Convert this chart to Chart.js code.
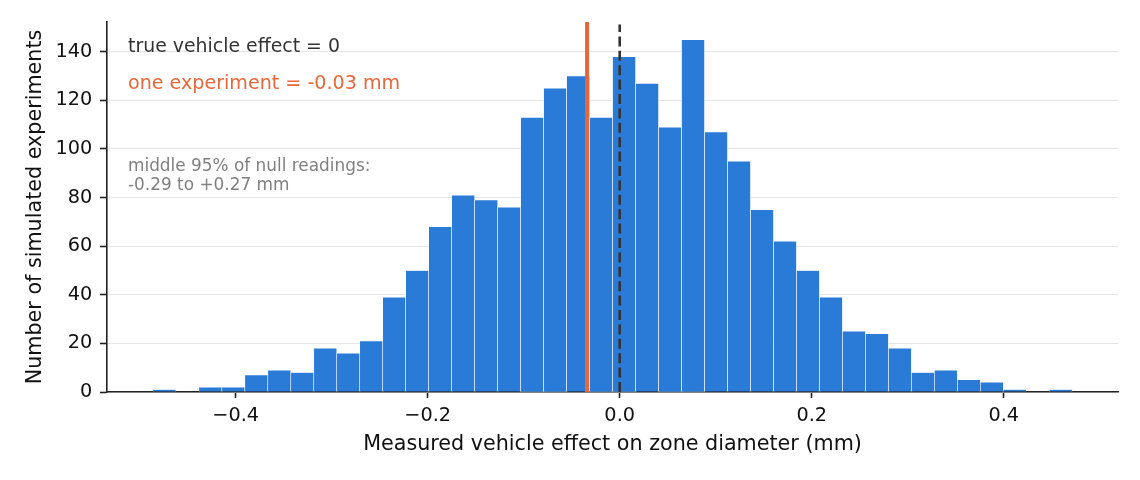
<!DOCTYPE html>
<html>
<head>
<meta charset="utf-8">
<script src="https://cdn.jsdelivr.net/npm/chart.js@4"></script>
<style>
  html, body { margin: 0; padding: 0; background: #fff; }
  #wrap { width: 1140px; height: 480px; }
</style>
</head>
<body>
<div id="wrap"><canvas id="myChart" width="1140" height="480"></canvas></div>
<script>
// histogram of 2000 simulated experiments, 40 equal bins
var binLeft = -0.4862;
var binWidth = 0.02394;
var counts = [1, 0, 2, 2, 7, 9, 8, 18, 16, 21,
              39, 50, 68, 81, 79, 76, 113, 125, 130, 113,
              138, 127, 109, 145, 107, 95, 75, 62, 50, 39,
              25, 24, 18, 8, 9, 5, 4, 1, 0, 1];
var xTicks = [-0.4, -0.2, 0, 0.2, 0.4];
var yTicks = [0, 20, 40, 60, 80, 100, 120, 140];
var trueEffect = 0;
var oneExperiment = -0.034;
var xMin = -0.534, xMax = 0.519;
var yMax = 152.25;

var blue = '#2a7ad7';
var orange = '#e8673a';
var font = 'DejaVu Sans';

var bars = counts.map(function (c, i) {
    return { x: binLeft + (i + 0.5) * binWidth, y: c };
});

// text notes in the upper-left corner of the plot
var notesPlugin = {
    id: 'notes',
    afterDraw: function (chart) {
        var ctx = chart.ctx;
        var a = chart.chartArea;
        var x = a.left + 21;
        ctx.save();
        ctx.textAlign = 'left';
        ctx.textBaseline = 'alphabetic';
        ctx.font = '18.9px "' + font + '"';
        ctx.fillStyle = '#333333';
        ctx.fillText('true vehicle effect = 0', x, a.top + 30);
        ctx.font = '19.1px "' + font + '"';
        ctx.fillStyle = orange;
        ctx.fillText('one experiment = -0.03 mm', x, a.top + 67);
        ctx.font = '16.9px "' + font + '"';
        ctx.fillStyle = '#808080';
        ctx.fillText('middle 95% of null readings:', x, a.top + 149);
        ctx.fillText('-0.29 to +0.27 mm', x, a.top + 168);
        ctx.restore();
    }
};

var ctx = document.getElementById('myChart').getContext('2d');
var myChart = new Chart(ctx, {
    type: 'bar',
    data: {
        datasets: [{
            type: 'line',
            data: [{ x: oneExperiment, y: 0 }, { x: oneExperiment, y: yMax }],
            borderColor: orange,
            borderWidth: 4,
            pointRadius: 0,
            order: 1
        }, {
            type: 'line',
            data: [{ x: trueEffect, y: 0 }, { x: trueEffect, y: yMax - 1 }],
            borderColor: '#333333',
            borderWidth: 2.6,
            borderDash: [10, 4.4],
            pointRadius: 0,
            order: 0
        }, {
            type: 'bar',
            data: bars,
            backgroundColor: blue,
            borderColor: '#ffffff',
            borderWidth: { left: 0.6, right: 0.6, top: 0.6, bottom: 0 },
            barPercentage: 1,
            categoryPercentage: 1,
            order: 2
        }]
    },
    options: {
        responsive: false,
        animation: false,
        layout: { padding: { left: 0, top: 22, right: 22, bottom: 0 } },
        plugins: {
            legend: { display: false },
            tooltip: { enabled: false }
        },
        scales: {
            x: {
                type: 'linear',
                min: xMin,
                max: xMax,
                offset: false,
                afterBuildTicks: function (s) {
                    s.ticks = xTicks.map(function (v) { return { value: v }; });
                },
                afterFit: function (s) { s.height = 88; },
                ticks: {
                    color: '#111',
                    font: { family: font, size: 19.3 },
                    padding: 6.2,
                    maxRotation: 0,
                    callback: function (v) {
                        return (v < 0 ? '\u2212' : '') + Math.abs(v).toFixed(1);
                    }
                },
                grid: { offset: false, drawOnChartArea: false, drawTicks: true, tickLength: 6, tickColor: '#222', tickWidth: 1.6 },
                border: { display: true, color: '#222', width: 1.6 },
                title: {
                    display: true,
                    text: 'Measured vehicle effect on zone diameter (mm)',
                    color: '#111',
                    font: { family: font, size: 20.7 },
                    padding: { top: 0, bottom: 23 }
                }
            },
            y: {
                min: 0,
                max: yMax,
                afterBuildTicks: function (s) {
                    s.ticks = yTicks.map(function (v) { return { value: v }; });
                },
                afterFit: function (s) { s.width = 107; },
                ticks: {
                    color: '#111',
                    font: { family: font, size: 19.3 },
                    padding: 7.7
                },
                grid: { color: '#e6e6e6', lineWidth: 1, drawTicks: true, tickLength: 7, tickColor: '#222', tickWidth: 1.6 },
                border: { display: true, color: '#222', width: 1.6 },
                title: {
                    display: true,
                    text: 'Number of simulated experiments',
                    color: '#111',
                    font: { family: font, size: 20.7 },
                    padding: { top: 23, bottom: 0 }
                }
            }
        }
    },
    plugins: [notesPlugin]
});
</script>
</body>
</html>
